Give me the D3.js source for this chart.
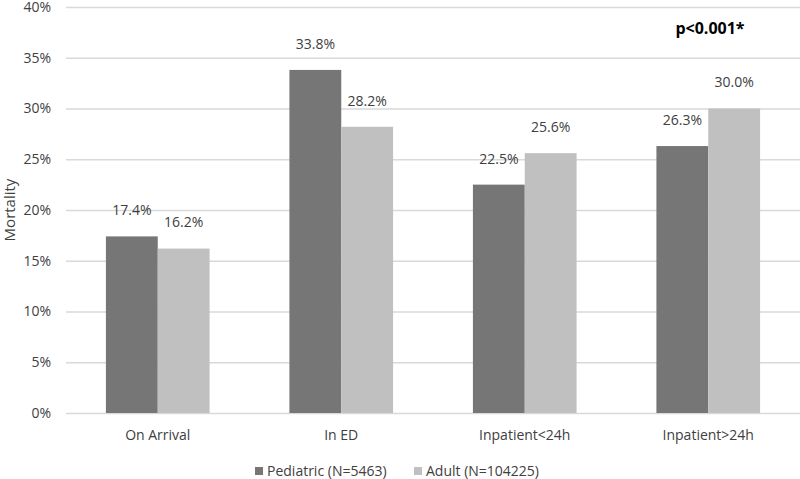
<!DOCTYPE html>
<html>
<head>
<meta charset="utf-8">
<script src="https://cdn.jsdelivr.net/npm/d3@7"></script>
<style>
  body { margin: 0; background: #fff; }
  svg { font-family: "Open Sans", "Liberation Sans", sans-serif; }
</style>
</head>
<body>
<svg id="chart" width="800" height="479"></svg>
<script>
var categories = ["On Arrival", "In ED", "Inpatient<24h", "Inpatient>24h"];
var seriesNames = ["Pediatric (N=5463)", "Adult (N=104225)"];
var pediatric = [17.4, 33.8, 22.5, 26.3];
var adult = [16.2, 28.2, 25.6, 30.0];
var yTicks = [0, 5, 10, 15, 20, 25, 30, 35, 40];
var colors = ["#767676", "#c0c0c0"];

var margin = { top: 7, right: 0, bottom: 66, left: 66 },
  width = 800 - margin.left - margin.right,
  height = 479 - margin.top - margin.bottom;

var svg = d3.select("#chart");
var g = svg.append("g")
  .attr("transform", "translate(" + margin.left + "," + margin.top + ")");

var x0 = d3.scaleBand().domain(categories).range([0, width]).paddingInner(0.435).paddingOuter(0.2175);
var x1 = d3.scaleBand().domain([0, 1]).range([0, x0.bandwidth()]);
var y = d3.scaleLinear().domain([0, 40]).range([height, 0]);

// gridlines
g.selectAll(".grid")
  .data(yTicks)
  .enter()
  .append("line")
  .attr("x1", 0)
  .attr("x2", width)
  .attr("y1", function (d) { return y(d) + 0.5; })
  .attr("y2", function (d) { return y(d) + 0.5; })
  .attr("stroke", "#d9d9d9")
  .attr("stroke-width", 1.5);

// y tick labels
g.selectAll(".ylab")
  .data(yTicks)
  .enter()
  .append("text")
  .attr("x", -15)
  .attr("y", function (d) { return y(d); })
  .attr("dy", "0.35em")
  .attr("text-anchor", "end")
  .attr("font-size", 14)
  .attr("fill", "#404040")
  .text(function (d) { return d + "%"; });

g.append("text")
  .attr("transform", "rotate(-90)")
  .attr("x", -203)
  .attr("y", -51)
  .attr("text-anchor", "middle")
  .attr("font-size", 15)
  .attr("fill", "#404040")
  .text("Mortality");

var data = categories.map(function (c, i) {
  return { cat: c, vals: [pediatric[i], adult[i]] };
});

var groups = g.selectAll(".grp")
  .data(data)
  .enter()
  .append("g")
  .attr("transform", function (d) { return "translate(" + x0(d.cat) + ",0)"; });

groups.selectAll("rect")
  .data(function (d) { return d.vals; })
  .enter()
  .append("rect")
  .attr("x", function (d, i) { return x1(i); })
  .attr("width", x1.bandwidth())
  .attr("y", function (d) { return y(d); })
  .attr("height", function (d) { return height - y(d); })
  .attr("fill", function (d, i) { return colors[i]; });

groups.selectAll(".val")
  .data(function (d) { return d.vals; })
  .enter()
  .append("text")
  .attr("x", function (d, i) { return x1(i) + x1.bandwidth() / 2; })
  .attr("y", function (d) { return y(d) - 26; })
  .attr("dy", "0.35em")
  .attr("text-anchor", "middle")
  .attr("font-size", 14)
  .attr("fill", "#404040")
  .text(function (d) { return d.toFixed(1) + "%"; });

// category labels
g.selectAll(".cat")
  .data(categories)
  .enter()
  .append("text")
  .attr("x", function (d) { return x0(d) + x0.bandwidth() / 2; })
  .attr("y", height + 22)
  .attr("dy", "0.35em")
  .attr("text-anchor", "middle")
  .attr("font-size", 14)
  .attr("fill", "#404040")
  .text(function (d) { return d; });

// p-value
svg.append("text")
  .attr("x", 710)
  .attr("y", 28)
  .attr("dy", "0.35em")
  .attr("text-anchor", "middle")
  .attr("font-size", 16)
  .attr("font-weight", "bold")
  .attr("fill", "#000")
  .text("p<0.001*");

// legend
var legendX = [255, 414];
var legend = svg.selectAll(".leg")
  .data(seriesNames)
  .enter()
  .append("g")
  .attr("transform", function (d, i) { return "translate(" + legendX[i] + ",471)"; });
legend.append("rect")
  .attr("x", 0)
  .attr("y", -4)
  .attr("width", 8)
  .attr("height", 8)
  .attr("fill", function (d, i) { return colors[i]; });
legend.append("text")
  .attr("x", 12)
  .attr("y", 0)
  .attr("dy", "0.35em")
  .attr("font-size", 14)
  .attr("fill", "#404040")
  .text(function (d) { return d; });
</script>
</body>
</html>
